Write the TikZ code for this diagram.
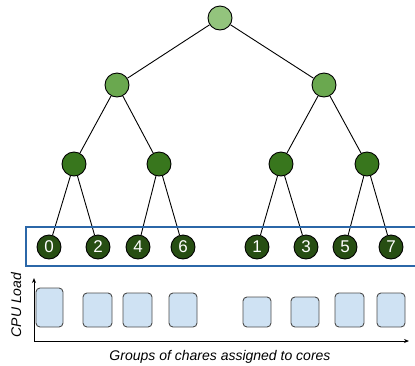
\documentclass[tikz,border=0pt]{standalone}
\usepackage{fontspec}
\setmainfont{Liberation Sans}
\usetikzlibrary{arrows.meta}
\definecolor{rootgreen}{HTML}{93C47D}
\definecolor{midgreen}{HTML}{6AA84F}
\definecolor{lowgreen}{HTML}{38761D}
\definecolor{leafgreen}{HTML}{274E13}
\definecolor{loadblue}{HTML}{CFE2F3}
\definecolor{groupblue}{HTML}{2B67A8}
\tikzset{
  tnode/.style={circle,draw=black,line width=0.9pt,minimum size=24pt,inner sep=0pt},
  leaf/.style={tnode,fill=leafgreen,text=white,font=\fontsize{17}{17}\selectfont},
  load/.style={draw=black!70,fill=loadblue,line width=0.9pt,rounded corners=4pt},
  edge/.style={line width=0.9pt}
}
\begin{document}
\begin{tikzpicture}[x=1pt,y=-1pt]
  \useasboundingbox (0,0) rectangle (415,365);
  % tree
  \node[tnode,fill=rootgreen] (root) at (220,18) {};
  \node[tnode,fill=midgreen] (l) at (117,85) {};
  \node[tnode,fill=midgreen] (r) at (324,85) {};
  \node[tnode,fill=lowgreen] (ll) at (74,164) {};
  \node[tnode,fill=lowgreen] (lr) at (159,164) {};
  \node[tnode,fill=lowgreen] (rl) at (281,164) {};
  \node[tnode,fill=lowgreen] (rr) at (367,164) {};
  \foreach \n/\x in {0/49,2/98,4/138,6/183,1/257,3/306,5/345,7/391}
    \node[leaf] (c\n) at (\x,247) {\n};
  \draw[edge] (root) -- (l) (root) -- (r);
  \draw[edge] (l) -- (ll) (l) -- (lr) (r) -- (rl) (r) -- (rr);
  \draw[edge] (ll) -- (c0) (ll) -- (c2) (lr) -- (c4) (lr) -- (c6);
  \draw[edge] (rl) -- (c1) (rl) -- (c3) (rr) -- (c5) (rr) -- (c7);
  \draw[groupblue,line width=1.6pt] (26,227) rectangle (420,266);
  % loads
  \foreach \n/\a/\b/\t in {0/36/63/288,2/83/112/293,4/123/152/293,6/169/197/293,
                           1/243/271/297,3/291/319/297,5/335/364/293,7/377/405/293}
    \draw[load] (\a,\t) rectangle (\b,327);
  \coordinate (o) at (34,341);
  \coordinate (ytop) at (34,278);
  \coordinate (xend) at (409,341);
  \draw[line width=0.9pt,-{Stealth[length=5pt,width=4pt]}] (o) -- (ytop);
  \draw[line width=0.9pt,-{Stealth[length=5pt,width=4pt]}] (o) -- (xend);
  \node[rotate=90,font=\fontsize{14}{14}\selectfont\itshape] (ylab) at (16,305) {CPU Load};
  \node[font=\fontsize{14}{14}\selectfont\itshape] (xlab) at (220,357) {Groups of chares assigned to cores};
\end{tikzpicture}
\end{document}
